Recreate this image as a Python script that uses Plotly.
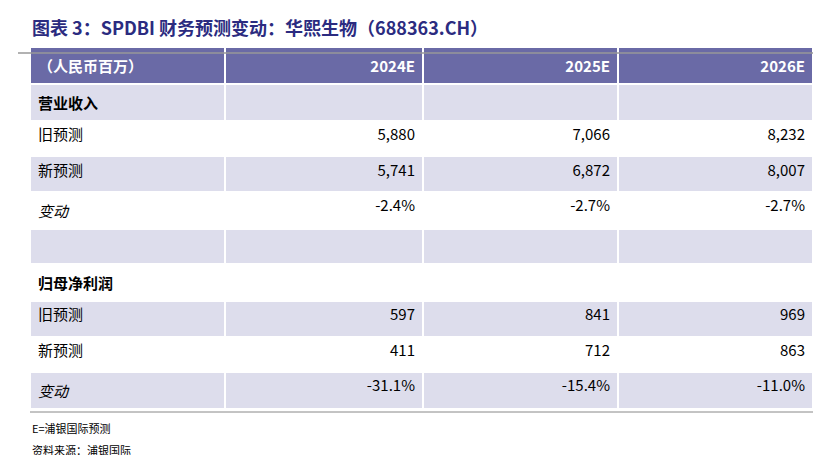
import plotly.graph_objects as go

W, H = 823, 455

header = ["（人民币百万）", "2024E", "2025E", "2026E"]
row_labels = ["<b>营业收入</b>", "旧预测", "新预测", "<i>变动</i>", "",
              "<b>归母净利润</b>", "旧预测", "新预测", "<i>变动</i>"]
col_2024 = ["", "5,880", "5,741", "-2.4%", "", "", "597", "411", "-31.1%"]
col_2025 = ["", "7,066", "6,872", "-2.7%", "", "", "841", "712", "-15.4%"]
col_2026 = ["", "8,232", "8,007", "-2.7%", "", "", "969", "863", "-11.0%"]

lav = "#DDDDEC"
fills = [lav if i % 2 == 0 else "white" for i in range(len(row_labels))]

fig = go.Figure(go.Table(
    domain=dict(x=[22 / W, 805 / W], y=[0, 1 - 39 / H]),
    columnwidth=[195, 198, 195, 195],
    header=dict(values=["<b>%s</b>" % h for h in header],
                fill_color="#6A6AA6", line=dict(color="white", width=2),
                font=dict(color="white", size=15, family="Noto Sans CJK SC"),
                align=["left", "right", "right", "right"], height=36),
    cells=dict(values=[row_labels, col_2024, col_2025, col_2026],
               fill_color=[fills] * 4, line=dict(color="white", width=2),
               font=dict(color="black", size=15, family="Noto Sans CJK SC"),
               align=["left", "right", "right", "right"], height=35.4),
))

fig.add_shape(type="line", xref="paper", yref="paper", x0=10 / W, x1=805 / W,
              y0=1 - 45 / H, y1=1 - 45 / H, line=dict(color="#999999", width=1.5))
fig.add_shape(type="line", xref="paper", yref="paper", x0=22 / W, x1=805 / W,
              y0=1 - 404 / H, y1=1 - 404 / H, line=dict(color="#888888", width=1))

fig.add_annotation(x=22 / W, y=1 - 4 / H, xref="paper", yref="paper", xanchor="left", yanchor="top",
                   showarrow=False, text="<b>图表 3：SPDBI 财务预测变动：华熙生物（688363.CH）</b>",
                   font=dict(size=18, color="#2B2B80", family="Noto Sans CJK SC"))
fig.add_annotation(x=22 / W, y=1 - 410 / H, xref="paper", yref="paper", xanchor="left", yanchor="top",
                   showarrow=False, text="E=浦银国际预测", font=dict(size=11, color="black", family="Noto Sans CJK SC"))
fig.add_annotation(x=22 / W, y=1 - 432 / H, xref="paper", yref="paper", xanchor="left", yanchor="top",
                   showarrow=False, text="资料来源：浦银国际", font=dict(size=11, color="black", family="Noto Sans CJK SC"))

fig.update_layout(width=W, height=H, margin=dict(l=0, r=0, t=0, b=0),
                  paper_bgcolor="white", plot_bgcolor="white")
fig.write_html("out.html")
